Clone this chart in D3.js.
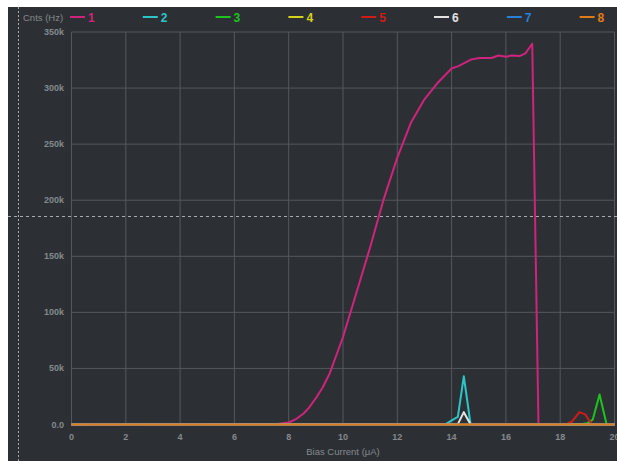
<!DOCTYPE html>
<html>
<head>
<meta charset="utf-8">
<script src="https://cdn.jsdelivr.net/npm/d3@7"></script>
<style>
  body { margin: 0; background: #fff; }
  svg { display: block; }
</style>
</head>
<body>
<div id="chart"></div>
<script>
// Bias current sweep, counts per channel

const channelNames = ["1", "2", "3", "4", "5", "6", "7", "8"];
const channelColors = ["#d0237c", "#2cc6c8", "#1ec41e", "#d6d21c", "#d11a1a", "#e2e2e2", "#2b7fd6", "#e07c16"];

// [bias current (uA), counts (Hz)]
const ch1 = [[0, 0], [7.0, 0], [7.5, 300], [8.0, 1800], [8.25, 4500], [8.55, 9800], [8.75, 15000],
    [9.03, 24500], [9.25, 33000], [9.5, 45000], [10.0, 78000], [10.5, 118000], [11.0, 158000],
    [11.5, 201000], [12.0, 238000], [12.5, 269000], [13.0, 290000], [13.5, 305000], [14.0, 317500],
    [14.25, 319600], [14.73, 325600], [15.04, 326800], [15.47, 326800], [15.72, 329000], [16.02, 328000],
    [16.2, 329000], [16.5, 328500], [16.72, 331000], [16.97, 339500], [17.2, 0], [20, 0]];
const ch2 = [[0, 0], [13.5, 0], [13.8, 600], [14.05, 4400], [14.23, 6800], [14.45, 43000], [14.7, 0], [20, 0]];
const ch3 = [[0, 0], [18.7, 0], [19.0, 1200], [19.2, 4400], [19.45, 26700], [19.71, 0], [20, 0]];
const ch4 = [[0, 0], [20, 0]];
const ch5 = [[0, 0], [18.2, 0], [18.44, 2700], [18.71, 11000], [18.92, 9000], [19.17, 0], [20, 0]];
const ch6 = [[0, 0], [14.23, 300], [14.45, 11000], [14.7, 0], [20, 0]];
const ch7 = [[0, 0], [20, 0]];
const ch8 = [[0, 0], [20, 0]];
const channelData = [ch1, ch2, ch3, ch4, ch5, ch6, ch7, ch8];

const xTicks = [0, 2, 4, 6, 8, 10, 12, 14, 16, 18, 20];
const yTicks = [0, 50000, 100000, 150000, 200000, 250000, 300000, 350000];
const yTickLabels = ["0.0", "50k", "100k", "150k", "200k", "250k", "300k", "350k"];

const width = 617, height = 461;
const plot = {left: 71.5, right: 614.5, top: 32, bottom: 424.5};
const gridColor = "#54585c";
const labelColor = "#85898d";

const svg = d3.select("#chart").append("svg")
    .attr("width", width)
    .attr("height", height)
    .style("font-family", "'Liberation Sans', Arial, sans-serif");

// dark panel
svg.append("rect")
    .attr("x", 8).attr("y", 7)
    .attr("width", width - 8).attr("height", height - 7)
    .attr("fill", "#2c3034");

const x = d3.scaleLinear().domain([0, 20]).range([plot.left, plot.right]);
const y = d3.scaleLinear().domain([0, 350000]).range([plot.bottom, plot.top]);

// grid
svg.append("g").selectAll("line")
    .data(xTicks)
    .join("line")
    .attr("x1", d => x(d)).attr("x2", d => x(d))
    .attr("y1", plot.top).attr("y2", plot.bottom)
    .attr("stroke", gridColor).attr("stroke-width", 1);

svg.append("g").selectAll("line")
    .data(yTicks)
    .join("line")
    .attr("x1", plot.left).attr("x2", plot.right)
    .attr("y1", d => y(d)).attr("y2", d => y(d))
    .attr("stroke", gridColor).attr("stroke-width", 1);

// axis labels
svg.append("g").selectAll("text")
    .data(yTicks)
    .join("text")
    .attr("x", 64)
    .attr("y", d => y(d) + 3)
    .attr("text-anchor", "end")
    .attr("fill", labelColor)
    .attr("font-size", 9)
    .attr("font-weight", "bold")
    .text((d, i) => yTickLabels[i]);

svg.append("g").selectAll("text")
    .data(xTicks)
    .join("text")
    .attr("x", d => x(d))
    .attr("y", 440)
    .attr("text-anchor", "middle")
    .attr("fill", labelColor)
    .attr("font-size", 9)
    .attr("font-weight", "bold")
    .text(d => d);

svg.append("text")
    .attr("x", 343).attr("y", 455)
    .attr("text-anchor", "middle")
    .attr("fill", labelColor)
    .attr("font-size", 9.5)
    .text("Bias Current (\u03bcA)");

// series
const line = d3.line()
    .x(d => x(d[0]))
    .y(d => y(d[1]));

svg.append("g").selectAll("path")
    .data(channelData)
    .join("path")
    .attr("d", line)
    .attr("fill", "none")
    .attr("stroke", (d, i) => channelColors[i])
    .attr("stroke-width", 2)
    .attr("stroke-linejoin", "round");

// legend
svg.append("text")
    .attr("x", 23).attr("y", 21)
    .attr("fill", labelColor)
    .attr("font-size", 9.5)
    .text("Cnts (Hz)");

const legend = svg.append("g").selectAll("g")
    .data(channelNames)
    .join("g")
    .attr("transform", (d, i) => "translate(" + (70 + i * 72.8) + ",17)");

legend.append("line")
    .attr("x1", 0).attr("x2", 15)
    .attr("stroke", (d, i) => channelColors[i])
    .attr("stroke-width", 2);

legend.append("text")
    .attr("x", 18).attr("y", 4.5)
    .attr("fill", (d, i) => channelColors[i])
    .attr("font-size", 12)
    .attr("font-weight", "bold")
    .text(d => d);

// crosshair
svg.append("line")
    .attr("x1", 18.5).attr("x2", 18.5)
    .attr("y1", 7).attr("y2", height)
    .attr("stroke", "#a8acb0").attr("stroke-width", 1)
    .attr("stroke-dasharray", "2,2");

svg.append("line")
    .attr("x1", 8).attr("x2", width)
    .attr("y1", 216.5).attr("y2", 216.5)
    .attr("stroke", "#a8acb0").attr("stroke-width", 1)
    .attr("stroke-dasharray", "3,3");
</script>
</body>
</html>
